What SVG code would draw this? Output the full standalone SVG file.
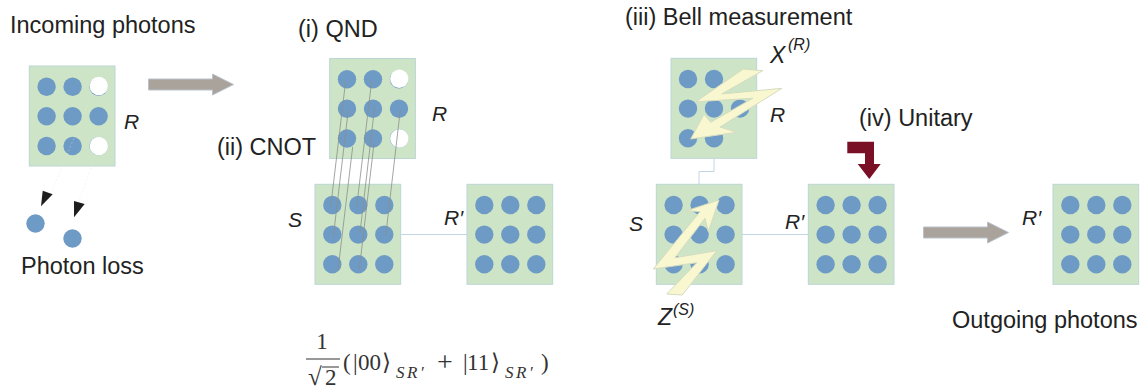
<svg xmlns="http://www.w3.org/2000/svg" xmlns:xlink="http://www.w3.org/1999/xlink" width="1141" height="390" viewBox="0 0 1141 390">
<style>
.box{fill:#cde5c6;stroke:#bcd5d6;stroke-width:1}
.q{fill:#6e9ac6}
.e{fill:#fff}
.t{font-family:"Liberation Sans",Arial,sans-serif;font-size:23.5px;fill:#222}
.i{font-family:"Liberation Sans",Arial,sans-serif;font-size:21px;font-style:italic;fill:#222}
.x{font-family:"Liberation Sans",Arial,sans-serif;font-size:23px;font-style:italic;fill:#222}
.s{font-family:"Liberation Sans",Arial,sans-serif;font-size:16px;font-style:italic;fill:#222}
.m{font-family:"Liberation Serif","Times New Roman",serif;fill:#333;font-size:23px}
.ms{font-size:17px;font-style:italic;letter-spacing:2.5px}
.link{fill:none;stroke:#c3d6e4;stroke-width:1}
.cn{stroke:#8a8f8a;stroke-width:.8;fill:none}
.bolt{fill:#f8f7cf;stroke:#d5dcc0;stroke-width:1}
.big{fill:#aaa39c;stroke:#b9c2cc;stroke-width:1}
</style>
<defs>
<g id="row3"><circle class="q" cx="0" cy="0" r="9.2"/><circle class="q" cx="26" cy="0" r="9.2"/><circle class="q" cx="52" cy="0" r="9.2"/></g>
<g id="reg"><rect class="box" x="0" y="0" width="85.7" height="100"/><use xlink:href="#row3" href="#row3" x="17.3" y="20.7"/><use xlink:href="#row3" href="#row3" x="17.3" y="50.3"/><use xlink:href="#row3" href="#row3" x="17.3" y="80"/></g>
</defs>
<g id="node-incoming">
<use href="#reg" x="29.3" y="66"/>
<circle class="e" cx="98.8" cy="86" r="9.2"/><circle class="e" cx="98.8" cy="146" r="9.2"/>
<text class="i" x="124" y="129">R</text>
<text class="t" x="10" y="33">Incoming photons</text>
</g>
<g id="node-loss">
<circle class="q" cx="35.5" cy="223.5" r="9.2"/><circle class="q" cx="72.5" cy="238.5" r="9.2"/>
<text class="t" x="21" y="274">Photon loss</text>
</g>
<g id="node-qnd">
<use href="#reg" x="329.7" y="58.5"/>
<circle class="e" cx="399.3" cy="78.7" r="9.2"/><circle class="e" cx="399.3" cy="138.5" r="9.2"/>
<text class="i" x="432" y="121">R</text>
<text class="t" x="298" y="37">(i) QND</text>
<text class="t" x="217" y="155">(ii) CNOT</text>
</g>
<g id="node-s1">
<use href="#reg" x="315" y="184.3"/>
<text class="i" x="288" y="227">S</text>
</g>
<g id="node-r1">
<use href="#reg" x="467" y="184.3"/>
<text class="i" x="444" y="225">R′</text>
</g>
<g id="node-bell-r">
<rect class="box" x="671" y="58.3" width="85.7" height="100"/>
<circle class="q" cx="688" cy="79" r="9.2"/><circle class="q" cx="714" cy="79" r="9.2"/>
<circle class="q" cx="688" cy="108.6" r="9.2"/><circle class="q" cx="714" cy="108.6" r="9.2"/><circle class="q" cx="740" cy="108.6" r="9.2"/>
<circle class="q" cx="688" cy="138.3" r="9.2"/><circle class="q" cx="714" cy="138.3" r="9.2"/>
<text class="t" x="625" y="25">(iii) Bell measurement</text>
<text class="i" x="770" y="122">R</text>
</g>
<g id="node-bell-s">
<use href="#reg" x="656.3" y="184.3"/>
<text class="i" x="629" y="231">S</text>
</g>
<g id="node-unitary">
<use href="#reg" x="808.3" y="184.3"/>
<text class="i" x="785" y="229">R′</text>
<text class="t" x="859" y="126">(iv) Unitary</text>
</g>
<g id="node-out">
<use href="#reg" x="1053" y="184.3"/>
<text class="i" x="1022" y="225">R′</text>
<text class="t" x="952" y="328">Outgoing photons</text>
</g>
<g id="connectors">
<path class="link" d="M400.7 234.5H467M742 234.5H808.3M714 158.3V171.5H699V184.3"/>
<g class="cn">
<path d="M345.7 80.7L330.7 206.7M348.3 110L333.3 236.7M352.7 146.7L338 270M371.7 80.7L356.7 206.7M374.7 106.7L360 232.7M374 143.3L359.3 269.3M400.3 110L385.7 236"/>
</g>
<path d="M92 94L46 206M96 153L74 216" fill="none" stroke="#dfe8dc" stroke-width=".5" stroke-dasharray="2 2" opacity=".7"/>
<path d="M42.7 190.7L52.7 194.3L41 206.3Z" fill="#1e1e1e"/>
<path d="M74 201L84.7 204L74 217.3Z" fill="#1e1e1e"/>
<path class="big" d="M148.5 79H212.5V74L233.5 84.5L212.5 95V90H148.5Z"/>
<path class="big" d="M923.5 227H987.5V222L1008.5 232.5L987.5 243V238H923.5Z"/>
<path d="M847.3 141.7H874V164H880.7L869.3 179L857.7 164H865V153.3H847.3Z" fill="#7a1026"/>
</g>
<g id="bolts">
<path class="bolt" d="M743.3 69L762.7 70.7L721.7 94L782 88.3L720 127L736.7 132.3L690.7 139L704 114.3L710.7 122.3L752.7 98.3L696 101.7Z"/>
<path class="bolt" d="M719 200L708.3 231.7L705 218.3L675 257.7L716.7 250.7L682.3 295L666.7 294L696.7 262.7L653.3 269L700 211.7L686.7 210.7Z"/>
<text class="x" x="770" y="63">X</text><text class="s" x="788" y="50">(R)</text>
<text class="x" x="658" y="325">Z</text><text class="s" x="673" y="315">(S)</text>
</g>
<g id="formula" class="m">
<text x="322" y="349" text-anchor="middle">1</text>
<path d="M306 359H340M322 367H339" stroke="#333" stroke-width="1" fill="none"/>
<text x="308" y="385" font-size="25">√</text>
<text x="325" y="385">2</text>
<text x="343" y="370">(</text>
<text x="353" y="370">|</text>
<text x="358" y="370">00</text>
<text x="382" y="370">⟩</text>
<text class="ms" x="396" y="378">SR′</text>
<text x="437" y="371" font-size="28">+</text>
<text x="463" y="370">|</text>
<text x="467" y="370">11</text>
<text x="491" y="370">⟩</text>
<text class="ms" x="505" y="378">SR′</text>
<text x="541" y="370">)</text>
</g>
</svg>
